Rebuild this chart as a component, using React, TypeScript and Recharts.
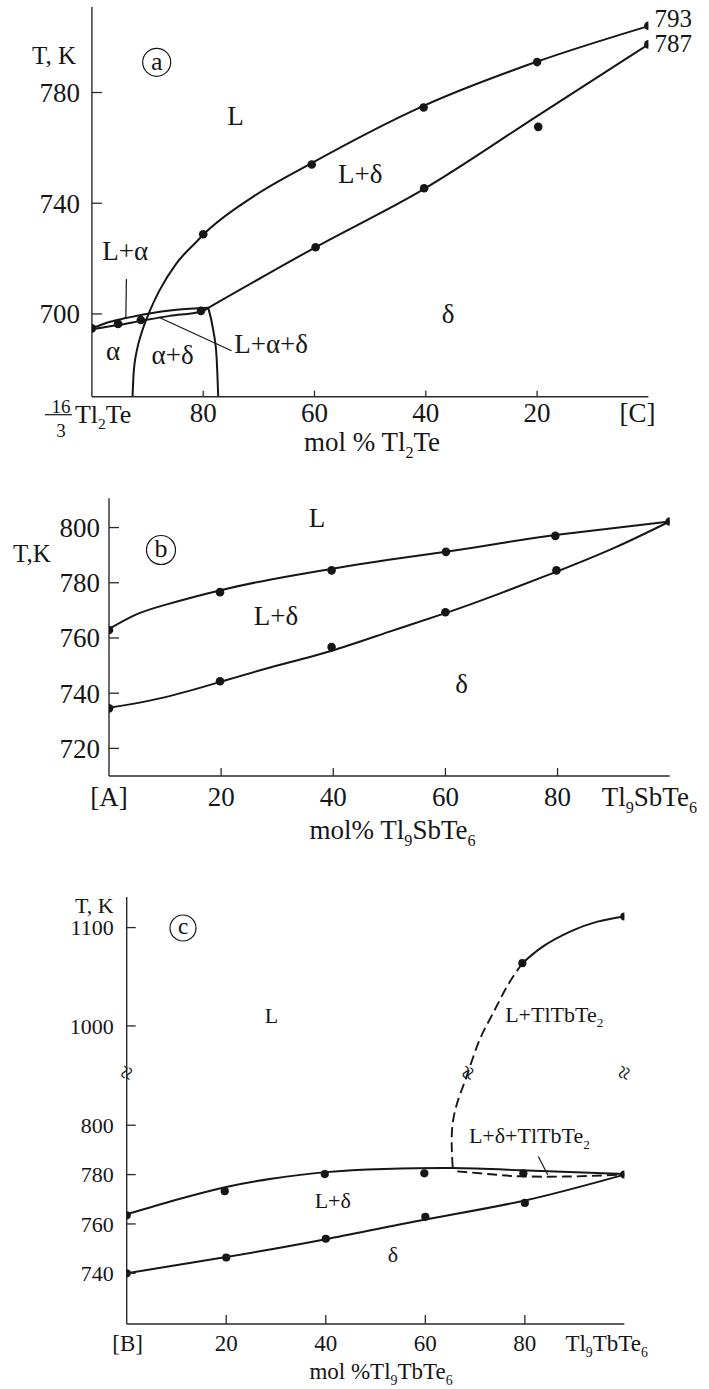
import React from 'react';
import { ComposedChart, Line, Scatter, XAxis, YAxis, ReferenceDot, Customized } from 'recharts';

const FONT = '"Liberation Serif", "Times New Roman", Times, serif';
const INK = '#161616';
const AXIS = '#2a2a2a';

type P = { x: number; y: number };
type Lab = { x: number; y: number; text: string };

// ================= Panel (a): mol % Tl2Te (100 at left -> 0 at right) =================
const aXTicks = [100, 80, 60, 40, 20, 0];
const aYTicks = [700, 740, 780];
const aLiquidus: P[] = [
  { x: 92.7, y: 670.1 }, { x: 92.5, y: 678.6 }, { x: 91.9, y: 687.0 }, { x: 91.1, y: 693.0 },
  { x: 89.9, y: 699.6 }, { x: 87.8, y: 708.7 }, { x: 84.8, y: 718.3 }, { x: 81.2, y: 726.1 },
  { x: 79.9, y: 728.8 }, { x: 71.0, y: 742.4 }, { x: 60.6, y: 754.4 }, { x: 40.5, y: 775.1 },
  { x: 20.1, y: 791.1 }, { x: 0, y: 804.0 },
];
const aLensUpper: P[] = [
  { x: 100, y: 694.8 }, { x: 96.7, y: 697.2 }, { x: 93.9, y: 698.5 }, { x: 90.2, y: 700.0 },
  { x: 84.8, y: 701.5 }, { x: 79.1, y: 702.2 },
];
const aLensLower: P[] = [
  { x: 100, y: 694.5 }, { x: 95.3, y: 696.0 }, { x: 91.2, y: 697.5 }, { x: 86.0, y: 699.3 },
  { x: 80.4, y: 700.8 }, { x: 79.1, y: 702.2 },
];
const aAlphaDeltaRight: P[] = [
  { x: 79.1, y: 702.2 }, { x: 78.2, y: 694.2 }, { x: 77.6, y: 684.6 }, { x: 77.3, y: 670.1 },
];
const aSolidus: P[] = [
  { x: 79.1, y: 702.2 }, { x: 60.0, y: 723.9 }, { x: 40.2, y: 745.3 }, { x: 20.0, y: 771.5 }, { x: 0, y: 797.4 },
];
const aLeaderLA: P[] = [{ x: 93.8, y: 712.6 }, { x: 93.9, y: 698.5 }];
const aLeaderLAD: P[] = [{ x: 87.8, y: 698.6 }, { x: 74.9, y: 686.7 }];
const aLiquidusDots: P[] = [
  { x: 80, y: 728.8 }, { x: 60.5, y: 754.0 }, { x: 40.4, y: 774.6 }, { x: 20, y: 791.0 }, { x: 0, y: 804.1 },
];
const aSolidusDots: P[] = [
  { x: 0, y: 797.4 }, { x: 19.8, y: 767.6 }, { x: 40.3, y: 745.4 }, { x: 59.8, y: 724.1 }, { x: 80.4, y: 701.1 },
];
const aLensDots: P[] = [{ x: 100, y: 694.8 }, { x: 95.3, y: 696.4 }, { x: 91.2, y: 697.8 }];
const aRegionLabels: Lab[] = [
  { x: 74.2, y: 768.3, text: 'L' }, { x: 51.8, y: 747.2, text: 'L+δ' }, { x: 36, y: 696.8, text: 'δ' },
  { x: 96.2, y: 683.2, text: 'α' }, { x: 85.5, y: 682.0, text: 'α+δ' }, { x: 94, y: 719.5, text: 'L+α' },
  { x: 67.8, y: 685.8, text: 'L+α+δ' },
];
const aEndLabels: Lab[] = [{ x: 0, y: 804.1, text: '793' }, { x: 0, y: 797.4, text: '787' }];

// ================= Panel (b): mol% Tl9SbTe6 =================
const bXTicks = [0, 20, 40, 60, 80, 100];
const bYTicks = [720, 740, 760, 780, 800];
const bLiquidus: P[] = [
  { x: 0, y: 763.3 }, { x: 4.6, y: 768.3 }, { x: 10, y: 772.0 }, { x: 19.7, y: 777.2 }, { x: 28.9, y: 781.2 },
  { x: 39.6, y: 785.0 }, { x: 49.9, y: 788.3 }, { x: 60.1, y: 791.2 }, { x: 69.3, y: 794.1 }, { x: 79.6, y: 797.3 },
  { x: 100, y: 802.2 },
];
const bSolidus: P[] = [
  { x: 0, y: 734.7 }, { x: 9.5, y: 738.3 }, { x: 19.7, y: 744.0 }, { x: 28.9, y: 749.4 }, { x: 39.6, y: 755.3 },
  { x: 49.9, y: 762.2 }, { x: 60, y: 769.0 }, { x: 69.3, y: 775.8 }, { x: 79.8, y: 784.0 }, { x: 90.3, y: 792.8 },
  { x: 100, y: 802.2 },
];
const bLiquidusDots: P[] = [
  { x: 0, y: 762.9 }, { x: 19.8, y: 776.6 }, { x: 39.7, y: 784.5 }, { x: 60.1, y: 791.2 }, { x: 79.6, y: 797.0 }, { x: 100, y: 802.2 },
];
const bSolidusDots: P[] = [
  { x: 0, y: 734.5 }, { x: 19.8, y: 744.3 }, { x: 39.7, y: 756.7 }, { x: 60, y: 769.3 }, { x: 79.8, y: 784.5 },
];
const bRegionLabels: Lab[] = [
  { x: 37.1, y: 800.2, text: 'L' }, { x: 29.8, y: 764.7, text: 'L+δ' }, { x: 62.9, y: 740.1, text: 'δ' },
];

// ================= Panel (c): mol %Tl9TbTe6 (broken temperature axis) =================
const cXTicks = [0, 20, 40, 60, 80, 100];
const cYTicks = [740, 760, 780, 800, 1000, 1100];
const cLiquidus: P[] = [
  { x: 0, y: 763.9 }, { x: 10, y: 769.8 }, { x: 20, y: 775.0 }, { x: 29.1, y: 778.3 }, { x: 40, y: 781.0 },
  { x: 51.8, y: 782.3 }, { x: 65.5, y: 782.7 }, { x: 79.1, y: 781.8 }, { x: 100, y: 780.2 },
];
const cSolidus: P[] = [
  { x: 0, y: 740 }, { x: 20, y: 746.6 }, { x: 40, y: 753.8 }, { x: 60, y: 761.8 }, { x: 80, y: 769.5 }, { x: 100, y: 780 },
];
const cDashUpper: P[] = [
  { x: 65.5, y: 783.0 }, { x: 65.5, y: 800.8 }, { x: 67.3, y: 814.3 }, { x: 68.6, y: 953 }, { x: 70.9, y: 985.8 },
  { x: 73.6, y: 1012.9 }, { x: 76.4, y: 1040 }, { x: 79.5, y: 1063.8 },
];
const cSolidUpper: P[] = [
  { x: 79.5, y: 1063.8 }, { x: 83.6, y: 1080.7 }, { x: 89.1, y: 1095.9 }, { x: 94.6, y: 1106.1 }, { x: 100, y: 1111.3 },
];
const cDashLower: P[] = [
  { x: 66.4, y: 781.3 }, { x: 74.5, y: 779.9 }, { x: 79.1, y: 779.3 }, { x: 88.2, y: 779.2 }, { x: 100, y: 780 },
];
const cLeader: P[] = [{ x: 82.7, y: 787.3 }, { x: 84.6, y: 779.9 }];
const cUpperDots: P[] = [
  { x: 0, y: 763.5 }, { x: 19.7, y: 773.3 }, { x: 39.8, y: 780.2 }, { x: 59.8, y: 780.5 }, { x: 79.7, y: 780.5 }, { x: 100, y: 780 },
];
const cLowerDots: P[] = [
  { x: 0, y: 740 }, { x: 20, y: 746.4 }, { x: 40, y: 754.0 }, { x: 60, y: 762.9 }, { x: 80, y: 768.5 },
];
const cTopDots: P[] = [{ x: 79.5, y: 1063.8 }, { x: 100, y: 1111.3 }];
const cRegionLabels: Lab[] = [
  { x: 29.1, y: 1002.7, text: 'L' }, { x: 85.9, y: 1004.4, text: 'L+TlTbTe_2' },
  { x: 80.9, y: 792.8, text: 'L+δ+TlTbTe_2' }, { x: 41.4, y: 766.4, text: 'L+δ' }, { x: 53.5, y: 744.7, text: 'δ' },
];
const cBreakX = [0, 68.6, 100];

// broken axis: lower part 1:1, upper part compressed
const BREAK_V = 821.3;
const UP_BASE = 840.25;
const UP_K = 0.3985;
const toV = (t: number) => (t <= 900 ? t : UP_BASE + (t - 1000) * UP_K);
const fromV = (v: number) => Math.round(v <= 830 ? v : 1000 + (v - UP_BASE) / UP_K);
const mapV = (arr: P[]) => arr.map((p) => ({ x: p.x, y: toV(p.y) }));

// ================= helpers =================
function chemSpans(s: string, fs: number) {
  const tokens = s.split(/(_\d+)/).filter(Boolean);
  let down = false;
  return tokens.map((t, i) => {
    if (t.startsWith('_')) {
      const el = (
        <tspan key={i} fontSize={fs * 0.6} dy={down ? 0 : fs * 0.26}>
          {t.slice(1)}
        </tspan>
      );
      down = true;
      return el;
    }
    const el = (
      <tspan key={i} dy={down ? -fs * 0.26 : 0}>
        {t}
      </tspan>
    );
    down = false;
    return el;
  });
}

const yTick = (fs: number, gap: number, label: (v: number) => string, len = 10) => (props: any) => {
  const { x, y, payload } = props;
  return (
    <g>
      <line x1={x} x2={x + len} y1={y} y2={y} stroke={AXIS} strokeWidth={1.3} />
      <text x={x - gap} y={y} dy="0.35em" textAnchor="end" fontFamily={FONT} fontSize={fs} fill={INK}>
        {label(payload.value)}
      </text>
    </g>
  );
};

const rightTick = (len = 8) => (props: any) => {
  const { x, y } = props;
  return <line x1={x} x2={x - len} y1={y} y2={y} stroke={AXIS} strokeWidth={1.4} />;
};

const xTick = (render: (v: number, x: number, y: number) => React.ReactNode, marks: number[], len = 7) => (props: any) => {
  const { x, y, payload } = props;
  const v = payload.value;
  return (
    <g>
      {marks.includes(v) && <line x1={x} x2={x} y1={y} y2={y - len} stroke={AXIS} strokeWidth={1.3} />}
      {render(v, x, y)}
    </g>
  );
};

const textShape = (text: string, fs: number, dx = 0, dyPx = 0, anchor: 'middle' | 'start' | 'end' = 'middle') => (p: any) => (
  <text
    x={p.cx + dx}
    y={p.cy + dyPx}
    dy="0.35em"
    textAnchor={anchor}
    fontFamily={FONT}
    fontSize={fs}
    fill={INK}
  >
    {chemSpans(text, fs)}
  </text>
);

const dotShape = (r: number) => (p: any) => <circle cx={p.cx} cy={p.cy} r={r} fill={INK} />;

const breakShape = (p: any) => (
  <text
    x={p.cx}
    y={p.cy}
    dy="0.33em"
    textAnchor="middle"
    fontFamily={FONT}
    fontSize={25}
    fill={INK}
    transform={`rotate(-72 ${p.cx} ${p.cy})`}
  >
    ≈
  </text>
);

const curve = (data: P[], key: string, opts: { dash?: string; type?: any; width?: number } = {}) => (
  <Line
    key={key}
    data={data}
    dataKey="y"
    type={opts.type || 'natural'}
    stroke={INK}
    strokeWidth={opts.width || 2}
    strokeDasharray={opts.dash}
    dot={false}
    activeDot={false}
    isAnimationActive={false}
    legendType="none"
  />
);

const dots = (data: P[], key: string, r = 4.3) => (
  <Scatter key={key} data={data} dataKey="y" shape={dotShape(r)} isAnimationActive={false} legendType="none" />
);

const axisLine = { stroke: AXIS, strokeWidth: 1.4 };

function CircleTag({ cx, cy, r, letter, fs }: { cx: number; cy: number; r: number; letter: string; fs: number }) {
  return (
    <g>
      <circle cx={cx} cy={cy} r={r} fill="none" stroke={INK} strokeWidth={1.2} />
      <text x={cx} y={cy} dy="0.28em" textAnchor="middle" fontFamily={FONT} fontSize={fs} fill={INK}>
        {letter}
      </text>
    </g>
  );
}

// ================= charts =================
function PanelA() {
  const fs = 27;
  const xRender = (v: number, x: number, y: number) => {
    if (v === 100) {
      return (
        <g fontFamily={FONT} fill={INK}>
          <text x={x - 31} y={y + 16.5} textAnchor="middle" fontSize={19}>16</text>
          <line x1={x - 47} x2={x - 20} y1={y + 18} y2={y + 18} stroke={INK} strokeWidth={1.2} />
          <text x={x - 31} y={y + 40} textAnchor="middle" fontSize={19}>3</text>
          <text x={x - 17} y={y + 26} textAnchor="start" fontSize={26}>{chemSpans('Tl_2Te', 26)}</text>
        </g>
      );
    }
    if (v === 0) {
      return (
        <text x={x - 11} y={y + 25} textAnchor="middle" fontFamily={FONT} fontSize={fs} fill={INK}>[C]</text>
      );
    }
    return (
      <text x={x} y={y + 25} textAnchor="middle" fontFamily={FONT} fontSize={fs} fill={INK}>{v}</text>
    );
  };
  return (
    <ComposedChart width={709} height={470} margin={{ top: 7, right: 60.6, bottom: 0, left: 0 }}>
      <XAxis
        type="number" dataKey="x" domain={[0, 100]} reversed ticks={aXTicks} interval={0} allowDataOverflow
        height={73.3} tickSize={0} tickMargin={0} tickLine={false} axisLine={axisLine}
        tick={xTick(xRender, [80, 60, 40, 20], 6)}
      />
      <YAxis
        type="number" domain={[670.1, 810.9]} ticks={aYTicks} interval={0} allowDataOverflow width={91.9}
        tickSize={0} tickMargin={0} tickLine={false} axisLine={axisLine} tick={yTick(fs, 12, (v) => String(v))}
      />
      <YAxis
        yAxisId="r" orientation="right" type="number" domain={[670.1, 810.9]} allowDataOverflow width={0}
        tick={false} tickLine={false} axisLine={axisLine}
      />
      {curve(aLiquidus, 'liq', { type: 'monotone' })}
      {curve(aLensUpper, 'lu', { type: 'monotone' })}
      {curve(aLensLower, 'll', { type: 'monotone' })}
      {curve(aAlphaDeltaRight, 'adr', { type: 'monotone' })}
      {curve(aSolidus, 'sol', { type: 'monotone' })}
      {curve(aLeaderLA, 'lla', { type: 'linear', width: 1.2 })}
      {curve(aLeaderLAD, 'llad', { type: 'linear', width: 1.2 })}
      {dots(aLiquidusDots, 'dl')}
      {dots(aSolidusDots, 'ds')}
      {dots(aLensDots, 'dlens')}
      {aRegionLabels.map((l, i) => (
        <ReferenceDot key={'ra' + i} x={l.x} y={l.y} r={0} ifOverflow="visible" shape={textShape(l.text, fs)} />
      ))}
      {aEndLabels.map((l, i) => (
        <ReferenceDot
          key={'ea' + i} x={l.x} y={l.y} r={0} ifOverflow="visible"
          shape={textShape(l.text, 25, 6, i === 0 ? 1.5 : 7.4, 'start')}
        />
      ))}
      <Customized
        component={() => (
          <g>
            <text x={32} y={63.5} fontFamily={FONT} fontSize={25} fill={INK}>T, K</text>
            <CircleTag cx={156.7} cy={62.3} r={14} letter="a" fs={26} />
            <text x={372} y={451} textAnchor="middle" fontFamily={FONT} fontSize={fs} fill={INK}>
              {chemSpans('mol % Tl_2Te', fs)}
            </text>
          </g>
        )}
      />
    </ComposedChart>
  );
}

function PanelB() {
  const fs = 27;
  const xRender = (v: number, x: number, y: number) => {
    if (v === 0) {
      return <text x={x} y={y + 30} textAnchor="middle" fontFamily={FONT} fontSize={fs} fill={INK}>[A]</text>;
    }
    if (v === 100) {
      return (
        <text x={x - 68} y={y + 30} textAnchor="start" fontFamily={FONT} fontSize={fs} fill={INK}>
          {chemSpans('Tl_9SbTe_6', fs)}
        </text>
      );
    }
    return <text x={x} y={y + 30} textAnchor="middle" fontFamily={FONT} fontSize={fs} fill={INK}>{v}</text>;
  };
  return (
    <ComposedChart width={709} height={420} margin={{ top: 28.3, right: 39.3, bottom: 0, left: 0 }}>
      <XAxis
        type="number" dataKey="x" domain={[0, 100]} ticks={bXTicks} interval={0} allowDataOverflow
        height={114} tickSize={0} tickMargin={0} tickLine={false} axisLine={axisLine}
        tick={xTick(xRender, [20, 40, 60, 80], 8)}
      />
      <YAxis
        type="number" domain={[710, 810.6]} ticks={bYTicks} interval={0} allowDataOverflow width={109}
        tickSize={0} tickMargin={0} tickLine={false} axisLine={axisLine} tick={yTick(fs, 9, (v) => String(v))}
      />
      <YAxis
        yAxisId="r" orientation="right" type="number" domain={[710, 810.6]} allowDataOverflow width={0}
        tick={false} tickLine={false} axisLine={axisLine}
      />
      {curve(bLiquidus, 'bl')}
      {curve(bSolidus, 'bs')}
      {dots(bLiquidusDots, 'bdl')}
      {dots(bSolidusDots, 'bds')}
      {bRegionLabels.map((l, i) => (
        <ReferenceDot key={'rb' + i} x={l.x} y={l.y} r={0} ifOverflow="visible" shape={textShape(l.text, fs)} />
      ))}
      <Customized
        component={() => (
          <g>
            <text x={13} y={92} fontFamily={FONT} fontSize={25} fill={INK}>T,K</text>
            <CircleTag cx={161} cy={80} r={14.5} letter="b" fs={26} />
            <text x={392.6} y={369} textAnchor="middle" fontFamily={FONT} fontSize={fs} fill={INK}>
              {chemSpans('mol% Tl_9SbTe_6', fs)}
            </text>
          </g>
        )}
      />
    </ComposedChart>
  );
}

function PanelC() {
  const fs = 23;
  const xRender = (v: number, x: number, y: number) => {
    if (v === 0) {
      return <text x={x + 1} y={y + 27} textAnchor="middle" fontFamily={FONT} fontSize={fs} fill={INK}>[B]</text>;
    }
    if (v === 100) {
      return (
        <text x={x - 59} y={y + 27} textAnchor="start" fontFamily={FONT} fontSize={fs} fill={INK}>
          {chemSpans('Tl_9TbTe_6', fs)}
        </text>
      );
    }
    return <text x={x} y={y + 27} textAnchor="middle" fontFamily={FONT} fontSize={fs} fill={INK}>{v}</text>;
  };
  const dom: [number, number] = [719.45, 892.5];
  const vTicks = cYTicks.map(toV);
  return (
    <ComposedChart width={709} height={499} margin={{ top: 7, right: 84.6, bottom: 0, left: 0 }}>
      <XAxis
        type="number" dataKey="x" domain={[0, 100]} ticks={cXTicks} interval={0} allowDataOverflow
        height={65} tickSize={0} tickMargin={0} tickLine={false} axisLine={axisLine}
        tick={xTick(xRender, [20, 40, 60, 80], 9)}
      />
      <YAxis
        type="number" domain={dom} ticks={vTicks} interval={0} allowDataOverflow width={126.7}
        tickSize={0} tickMargin={0} tickLine={false} axisLine={axisLine}
        tick={yTick(22, 13, (v) => String(fromV(v)), 9)}
      />
      <YAxis
        yAxisId="r" orientation="right" type="number" domain={dom} ticks={[toV(1100)]} interval={0}
        allowDataOverflow width={0} tickSize={0} tickMargin={0} tickLine={false} axisLine={axisLine}
        tick={rightTick(8)}
      />
      {curve(mapV(cLiquidus), 'cl')}
      {curve(mapV(cSolidus), 'cs')}
      {curve(mapV(cDashUpper), 'cdu', { dash: '10 5', width: 1.9 })}
      {curve(mapV(cSolidUpper), 'csu')}
      {curve(mapV(cDashLower), 'cdl', { dash: '10 5', width: 1.9 })}
      {curve(mapV(cLeader), 'cld', { type: 'linear', width: 1.2 })}
      {dots(mapV(cUpperDots), 'cdu1', 4.1)}
      {dots(mapV(cLowerDots), 'cdl1', 4.1)}
      {dots(mapV(cTopDots), 'cdt', 4.1)}
      {cBreakX.map((bx, i) => (
        <ReferenceDot key={'bk' + i} x={bx} y={BREAK_V} r={0} ifOverflow="visible" shape={breakShape} />
      ))}
      {cRegionLabels.map((l, i) => (
        <ReferenceDot key={'rc' + i} x={l.x} y={toV(l.y)} r={0} ifOverflow="visible" shape={textShape(l.text, 22)} />
      ))}
      <Customized
        component={() => (
          <g>
            <text x={75} y={22.5} fontFamily={FONT} fontSize={22} fill={INK}>T, K</text>
            <CircleTag cx={183} cy={38} r={13} letter="c" fs={23} />
            <text x={381} y={489} textAnchor="middle" fontFamily={FONT} fontSize={fs} fill={INK}>
              {chemSpans('mol %Tl_9TbTe_6', fs)}
            </text>
          </g>
        )}
      />
    </ComposedChart>
  );
}

export default function App() {
  return (
    <div
      style={{
        position: 'absolute', left: 0, top: 0, width: 709, height: 1389, background: '#ffffff', overflow: 'hidden',
      }}
    >
      <div style={{ position: 'absolute', left: 0, top: 0 }}>
        <PanelA />
      </div>
      <div style={{ position: 'absolute', left: 0, top: 470 }}>
        <PanelB />
      </div>
      <div style={{ position: 'absolute', left: 0, top: 890 }}>
        <PanelC />
      </div>
    </div>
  );
}
